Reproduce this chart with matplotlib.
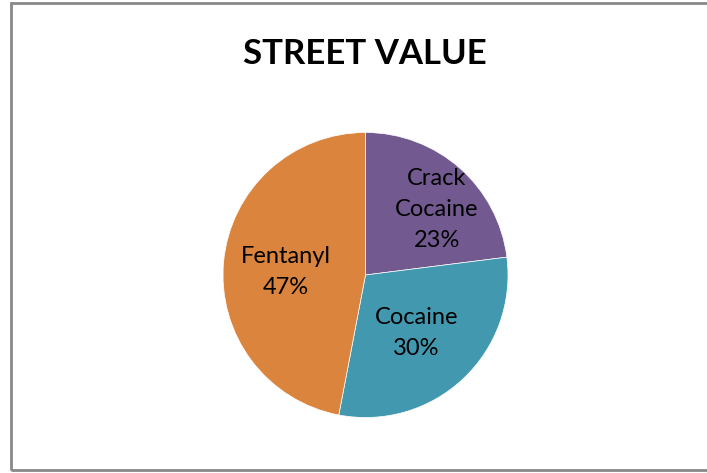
import numpy as np
import matplotlib.pyplot as plt
from matplotlib.patches import Rectangle

categories = ['Crack\nCocaine', 'Cocaine', 'Fentanyl']
shares = [23, 30, 47]
colors = ['#725a90', '#4198af', '#db843d']
label_dist = [0.68, 0.54, 0.56]
label_turn = [-6, -2, 3.5]  # degrees, nudges labels like Excel's best fit

plt.rcParams['font.family'] = ['Lato', 'DejaVu Sans']

fig = plt.figure(figsize=(7.07, 4.73), dpi=100)

# chart frame
fig.patches.append(Rectangle((11 / 707, 1 - 470 / 473), 700 / 707, 467 / 473,
                             transform=fig.transFigure, fill=False,
                             edgecolor='#888888', linewidth=2))

fig.text(365 / 707, 1 - 54 / 473, 'STREET VALUE', ha='center', va='center',
         fontsize=25, fontweight='bold')

r = 142.5
cx, cy = 365.5, 275
ax = fig.add_axes([(cx - r) / 707, 1 - (cy + r) / 473, 2 * r / 707, 2 * r / 473])
wedges, texts = ax.pie(shares, colors=colors, startangle=90, counterclock=False,
                       wedgeprops=dict(linewidth=0.5, edgecolor='white'))
ax.set_xlim(-1, 1)
ax.set_ylim(-1, 1)
ax.set_aspect('auto')

# put labels inside the slices, like the office chart does
for w, name, val, d, t in zip(wedges, categories, shares, label_dist, label_turn):
    mid = np.deg2rad((w.theta1 + w.theta2) / 2 + t)
    ax.text(d * np.cos(mid), d * np.sin(mid), f'{name}\n{val}%',
            ha='center', va='center', fontsize=17, linespacing=1.6)

fig.savefig('out.png', dpi=100)
